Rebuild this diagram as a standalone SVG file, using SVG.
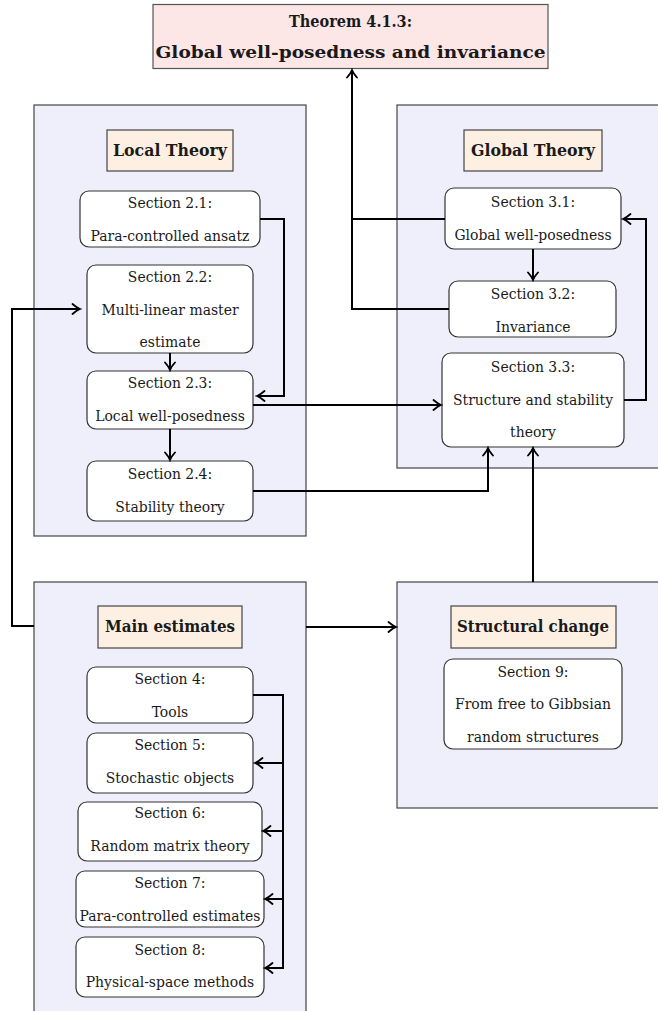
<svg xmlns="http://www.w3.org/2000/svg" width="658" height="1011" viewBox="0 0 658 1011">
<style>
.frame{fill:#efeffc;stroke:#444;stroke-width:1.2}
.label{fill:#fdefe2;stroke:#444;stroke-width:1.2}
.title{fill:#fce6e6;stroke:#555;stroke-width:1.2}
.sec{fill:#fff;stroke:#333;stroke-width:1.2}
text{font-family:"DejaVu Serif Condensed","DejaVu Serif","Liberation Serif",serif;fill:#1a1a1a;text-anchor:middle}
.t{font-size:15.5px}
.b{font-size:16px;font-weight:bold}
.bt{font-size:17px;font-weight:bold}
.c{fill:none;stroke:#000;stroke-width:2}
</style>
<defs>
<marker id="ah" viewBox="-10 -7 12 14" refX="0" refY="0" markerWidth="12" markerHeight="14" markerUnits="userSpaceOnUse" orient="auto">
<path d="M-7.5,-5 Q-3,-1 0,0 Q-3,1 -7.5,5" fill="none" stroke="#000" stroke-width="1.8" stroke-linecap="round"/>
</marker>
</defs>

<g id="title-node">
<rect class="title" x="153" y="4.5" width="395" height="64"/>
<text class="bt" x="350.5" y="27" textLength="123" lengthAdjust="spacingAndGlyphs">Theorem 4.1.3:</text>
<text class="bt" x="350.5" y="58" textLength="390" lengthAdjust="spacingAndGlyphs">Global well-posedness and invariance</text>
</g>

<g id="frame-local">
<rect class="frame" x="34" y="105" width="272" height="431"/>
<rect class="label" x="107" y="130" width="126" height="41"/>
<text class="b" x="170" y="156" textLength="114" lengthAdjust="spacingAndGlyphs">Local Theory</text>
</g>
<g id="frame-global">
<rect class="frame" x="397" y="105" width="290" height="363"/>
<rect class="label" x="464" y="130" width="138" height="41"/>
<text class="b" x="533" y="156" textLength="124" lengthAdjust="spacingAndGlyphs">Global Theory</text>
</g>
<g id="frame-main">
<rect class="frame" x="34" y="582" width="272" height="450"/>
<rect class="label" x="98" y="606" width="144" height="42"/>
<text class="b" x="170" y="632" textLength="130" lengthAdjust="spacingAndGlyphs">Main estimates</text>
</g>
<g id="frame-structural">
<rect class="frame" x="397" y="582" width="290" height="226"/>
<rect class="label" x="451" y="606" width="165" height="42"/>
<text class="b" x="533" y="632" textLength="152" lengthAdjust="spacingAndGlyphs">Structural change</text>
</g>

<g id="s21"><rect class="sec" x="80" y="191" width="180" height="56" rx="9"/>
<text class="t" x="170" y="208">Section 2.1:</text><text class="t" x="170" y="241">Para-controlled ansatz</text></g>
<g id="s22"><rect class="sec" x="87" y="265" width="166" height="88" rx="9"/>
<text class="t" x="170" y="282">Section 2.2:</text><text class="t" x="170" y="315">Multi-linear master</text><text class="t" x="170" y="347">estimate</text></g>
<g id="s23"><rect class="sec" x="87" y="371" width="166" height="58" rx="9"/>
<text class="t" x="170" y="388">Section 2.3:</text><text class="t" x="170" y="421">Local well-posedness</text></g>
<g id="s24"><rect class="sec" x="87" y="461" width="166" height="60" rx="9"/>
<text class="t" x="170" y="479">Section 2.4:</text><text class="t" x="170" y="512">Stability theory</text></g>

<g id="s31"><rect class="sec" x="445" y="188" width="176" height="61" rx="9"/>
<text class="t" x="533" y="207">Section 3.1:</text><text class="t" x="533" y="240">Global well-posedness</text></g>
<g id="s32"><rect class="sec" x="449" y="281" width="167" height="56" rx="9"/>
<text class="t" x="533" y="299">Section 3.2:</text><text class="t" x="533" y="332">Invariance</text></g>
<g id="s33"><rect class="sec" x="442" y="353" width="182" height="94" rx="9"/>
<text class="t" x="533" y="372">Section 3.3:</text><text class="t" x="533" y="405">Structure and stability</text><text class="t" x="533" y="437">theory</text></g>

<g id="s4"><rect class="sec" x="87" y="667" width="166" height="56" rx="9"/>
<text class="t" x="170" y="684">Section 4:</text><text class="t" x="170" y="717">Tools</text></g>
<g id="s5"><rect class="sec" x="87" y="733" width="166" height="60" rx="9"/>
<text class="t" x="170" y="750">Section 5:</text><text class="t" x="170" y="783">Stochastic objects</text></g>
<g id="s6"><rect class="sec" x="78" y="802" width="184" height="59" rx="9"/>
<text class="t" x="170" y="818">Section 6:</text><text class="t" x="170" y="851">Random matrix theory</text></g>
<g id="s7"><rect class="sec" x="76" y="871" width="188" height="56" rx="9"/>
<text class="t" x="170" y="888">Section 7:</text><text class="t" x="170" y="921">Para-controlled estimates</text></g>
<g id="s8"><rect class="sec" x="76" y="937" width="188" height="60" rx="9"/>
<text class="t" x="170" y="955">Section 8:</text><text class="t" x="170" y="987">Physical-space methods</text></g>

<g id="s9"><rect class="sec" x="444" y="659" width="178" height="90" rx="9"/>
<text class="t" x="533" y="677">Section 9:</text><text class="t" x="533" y="709">From free to Gibbsian</text><text class="t" x="533" y="742">random structures</text></g>

<g id="connectors">
<path class="c" d="M260,219 H284 V396 H257" marker-end="url(#ah)"/>
<path class="c" d="M170,353 V370" marker-end="url(#ah)"/>
<path class="c" d="M170,429 V460" marker-end="url(#ah)"/>
<path class="c" d="M253,405 H441" marker-end="url(#ah)"/>
<path class="c" d="M253,491 H488 V448" marker-end="url(#ah)"/>
<path class="c" d="M533,249 V280" marker-end="url(#ah)"/>
<path class="c" d="M624,400 H646 V219 H623" marker-end="url(#ah)"/>
<path class="c" d="M445,219 H352"/>
<path class="c" d="M449,309 H352 V70" marker-end="url(#ah)"/>
<path class="c" d="M533,582 V448" marker-end="url(#ah)"/>
<path class="c" d="M34,626 H12 V309 H80" marker-end="url(#ah)"/>
<path class="c" d="M306,627 H396" marker-end="url(#ah)"/>
<path class="c" d="M253,695 H283 V968 H265" marker-end="url(#ah)"/>
<path class="c" d="M283,763 H255" marker-end="url(#ah)"/>
<path class="c" d="M283,831 H263" marker-end="url(#ah)"/>
<path class="c" d="M283,899 H265" marker-end="url(#ah)"/>
</g>
</svg>
